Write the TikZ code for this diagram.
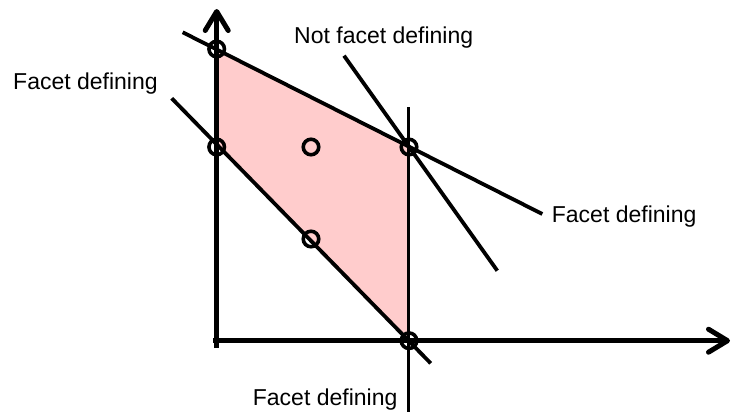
\documentclass[tikz,border=0pt]{standalone}
\usepackage{fontspec}
\setmainfont{Liberation Sans}
\usetikzlibrary{arrows.meta}
\definecolor{facetpink}{RGB}{255,204,204}
\tikzset{
  axisline/.style={line width=5pt,-{Straight Barb[length=19pt,width=23pt,line cap=round,line join=round]}},
  cutline/.style={line width=3.8pt},
  pt/.style={circle,draw,line width=3.6pt,minimum size=15.5pt,inner sep=0pt},
  lbl/.style={anchor=base west,inner sep=0pt,font=\fontsize{23}{27}\selectfont}
}
\begin{document}
\begin{tikzpicture}[x=1pt,y=-1pt]
\useasboundingbox (0,0) rectangle (734,412);
% vertices
\coordinate (A) at (216.7,49);
\coordinate (B) at (216.7,147);
\coordinate (C) at (311,147);
\coordinate (D) at (311,239);
\coordinate (E) at (409,147);
\coordinate (F) at (409,340.7);
% polytope
\fill[facetpink] (A) -- (E) -- (F) -- (B) -- cycle;
% axes
\coordinate (yb) at (216.7,348);
\coordinate (yt) at (216.7,9);
\coordinate (xl) at (213,340.7);
\coordinate (xr) at (730,340.7);
\draw[axisline] (yb) -- (yt);
\draw[axisline] (xl) -- (xr);
% lines
\coordinate (t1) at (182.7,32.3);
\coordinate (t2) at (542.3,214);
\coordinate (d1) at (171.7,98.3);
\coordinate (d2) at (430.7,363.3);
\coordinate (n1) at (344,55.7);
\coordinate (n2) at (497.3,270.7);
\coordinate (v1) at (408.5,107);
\coordinate (v2) at (408.5,412);
\draw[cutline] (t1) -- (t2);
\draw[cutline] (d1) -- (d2);
\draw[cutline] (n1) -- (n2);
\draw[cutline] (v1) -- (v2);
% points
\node[pt] (pA) at (A) {};
\node[pt] (pB) at (B) {};
\node[pt] (pC) at (C) {};
\node[pt] (pD) at (D) {};
\node[pt] (pE) at (E) {};
\node[pt] (pF) at (F) {};
% labels
\node[lbl] (lnot) at (294,44) {Not facet defining};
\node[lbl] (lleft) at (13,89) {Facet defining};
\node[lbl] (lright) at (551.7,222) {Facet defining};
\node[lbl] (lbot) at (252.7,405) {Facet defining};
\end{tikzpicture}
\end{document}
